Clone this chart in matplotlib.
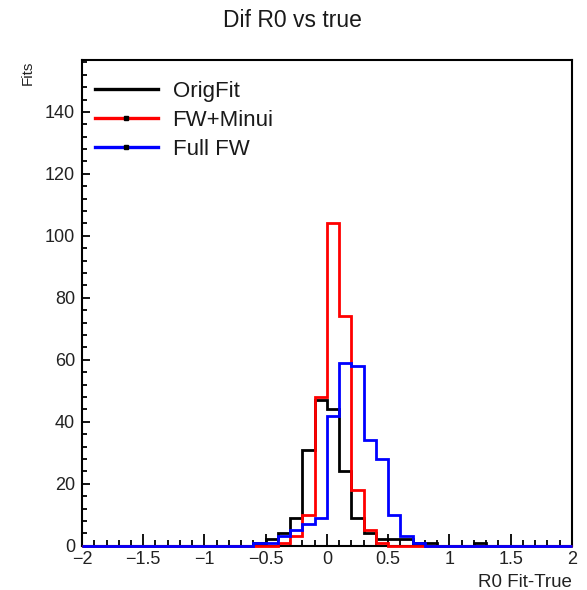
import numpy as np
import matplotlib
matplotlib.use("Agg")
import matplotlib.pyplot as plt
from matplotlib.lines import Line2D
from matplotlib.ticker import MultipleLocator, FuncFormatter

plt.rcParams['font.family'] = ['Liberation Sans', 'DejaVu Sans']

# Histogram definition: 40 bins from -2 to 2
x_min, x_max, n_bins = -2.0, 2.0, 40

orig_fit = [0, 0, 0, 0, 0, 0, 0, 0, 0, 0,
            0, 0, 0, 0, 1, 2, 4, 9, 31, 47,
            44, 24, 9, 4, 2, 2, 2, 1, 1, 0,
            0, 0, 1, 0, 0, 0, 0, 0, 0, 0]
fw_minui = [0, 0, 0, 0, 0, 0, 0, 0, 0, 0,
            0, 0, 0, 0, 0, 0, 1, 3, 10, 48,
            104, 74, 18, 5, 1, 0, 0, 0, 0, 0,
            0, 0, 0, 0, 0, 0, 0, 0, 0, 0]
full_fw = [0, 0, 0, 0, 0, 0, 0, 0, 0, 0,
           0, 0, 0, 0, 1, 1, 3, 5, 7, 9,
           42, 59, 58, 34, 28, 10, 3, 1, 0, 0,
           0, 0, 0, 0, 0, 0, 0, 0, 0, 0]

labels = ["OrigFit", "FW+Minui", "Full FW"]
colors = ["black", "red", "blue"]

title = "Dif R0 vs true"
xlabel = "R0 Fit-True"
ylabel = "Fits"

edges = np.linspace(x_min, x_max, n_bins + 1)

fig = plt.figure(figsize=(5.87, 5.90), dpi=100)
ax = fig.add_axes([0.1397, 0.0751, 0.9744 - 0.1397, 0.898 - 0.0751])

for i, (vals, col) in enumerate(zip([orig_fit, fw_minui, full_fw], colors)):
    ax.stairs(vals, edges, color=col, linewidth=2.0, zorder=2 + i, clip_on=False)

ax.set_xlim(x_min, x_max)
ax.set_ylim(0, 156.7)

ax.xaxis.set_major_locator(MultipleLocator(0.5))
ax.xaxis.set_minor_locator(MultipleLocator(0.1))
ax.yaxis.set_major_locator(MultipleLocator(20))
ax.yaxis.set_minor_locator(MultipleLocator(4))


def fmt(v, pos):
    s = ('%g' % round(v, 3))
    if s == '-0':
        s = '0'
    return s.replace('-', '\u2212')


ax.xaxis.set_major_formatter(FuncFormatter(fmt))

ax.tick_params(axis='x', which='major', direction='in', length=8.5, width=1.3,
               labelsize=13, pad=4, colors='black', labelcolor='#222222')
ax.tick_params(axis='x', which='minor', direction='in', length=4.5, width=1.3)
ax.tick_params(axis='y', which='major', direction='in', length=6, width=1.3,
               labelsize=13, pad=5, labelcolor='#222222')
ax.tick_params(axis='y', which='minor', direction='in', length=3.5, width=1.3)
ax.tick_params(top=False, right=False)

for sp in ax.spines.values():
    sp.set_linewidth(1.5)
    sp.set_color('black')

fig.text(0.498, 0.966, title, ha='center', va='center', fontsize=16.5, color='#1a1a1a')
ax.set_xlabel(xlabel, fontsize=13.5, color='#222222', loc='right', labelpad=4)
ax.set_ylabel(ylabel, fontsize=11, color='#222222', loc='top', labelpad=7)

handles = [
    Line2D([], [], color='black', linewidth=2.4),
    Line2D([], [], color='red', linewidth=2.4, marker='s', markersize=2.2,
           markerfacecolor='black', markeredgecolor='black'),
    Line2D([], [], color='blue', linewidth=2.4, marker='s', markersize=2.2,
           markerfacecolor='black', markeredgecolor='black'),
]
ax.legend(handles, labels, loc='upper left', bbox_to_anchor=(0.008, 0.975),
          frameon=False, fontsize=16, handlelength=2.85, handletextpad=0.65,
          labelspacing=0.36, borderaxespad=0.0, labelcolor='#1a1a1a')

fig.savefig("out.png", dpi=100)
